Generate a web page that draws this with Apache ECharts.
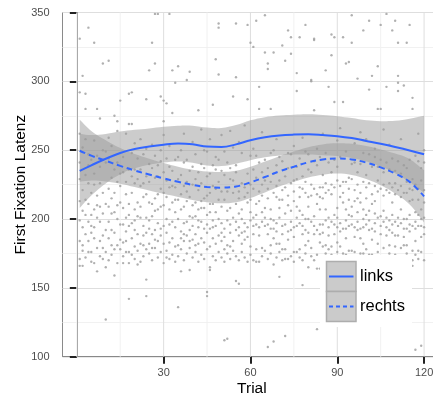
<!DOCTYPE html>
<html><head><meta charset="utf-8">
<script src="https://cdn.jsdelivr.net/npm/echarts@6/dist/echarts.min.js"></script>
<style>html,body{margin:0;padding:0;background:#fff}#c{width:433px;height:396px}</style>
</head><body><div id="c"></div>
<script>
const FONT = 'Liberation Sans, Arial, sans-serif';
const xTicks = [30, 60, 90, 120];
const xMinorGrid = [0, 15, 45, 75, 105];
const yMin = 100, yMax = 350, yStep = 50;
const seriesNames = ['links', 'rechts'];

// smooth fits (sampled trials) and half widths of their confidence bands
const bandTrials = [1,5,10,15,20,25,30,35,40,45,50,55,60,65,70,75,80,85,90,95,100,105,110,115,120];
const linksFit   = [235,239,243.8,248,250.8,252.6,254,254.8,254.3,252.6,252.3,254.2,257.2,259.4,260.7,261.3,261.5,261,260.2,258.8,256.7,254.6,252.3,249.8,247];
const linksHalf  = [27,22,18,15.5,14,13.2,13,13,13.5,13.8,13.8,14,14.5,14.6,14.5,14.5,14.6,14.6,14.5,14.5,15,16.5,19,23,28];
const rechtsFit  = [249.6,246,242.3,238.6,235.2,232.3,229.5,227,224.8,223.3,222.8,223.6,226.6,230.5,234.6,238,241.2,243.2,244,243.3,241,237.5,233,227,216.5];
const rechtsHalf = [22.5,18,15,13,12,11.5,11.2,11,11,11.2,11.4,11.4,11.3,11.2,11,11,11,11,11,11.3,12,13,14.5,16.5,19];

// first fixation latency per trial (index 0 = trial 1)
const latency = [
[166,171,184,213,199,229,262,241,331,292],
[166,194,181,206,221,252,304,177],
[172,203,189,214,258,232,280,291],
[184,176,198,226,211,247,339,239],
[169,195,190,219,243,203,176],
[168,207,186,225,257,233,328,194],
[162,179,201,217,246,280,210],
[173,209,184,238,226,273,198],
[188,179,219,204,250,313,171],
[127,165,192,176,211,241,249],
[170,186,222,209,259,244,315,198],
[192,174,215,230,181,253,204],
[159,178,205,190,236,219,275],
[168,200,181,227,241,264,271,210],
[178,185,212,196,233,224,286],
[168,183,208,234,196,245,173],
[191,176,201,218,227,262,184],
[142,168,176,195,211,236,269,291,203],
[174,197,186,219,248,231,269,292],
[180,171,199,207,226,192,255,236],
[177,212,189,202,244,229,167],
[169,182,201,224,209,236,258],
[188,173,195,216,247,226,181],
[144,156,178,201,190,231,218,251,287],
[182,175,199,212,227,240,308,193],
[170,189,211,202,237,254,328,179],
[179,206,192,215,230,246,313,349,185],
[172,184,218,197,239,231,349,207],
[176,193,188,222,209,242,289,250],
[168,182,210,195,219,234,261,286,271],
[177,200,190,216,228,244,284,172],
[171,196,183,207,223,238,253,349],
[186,174,198,212,235,277,308,224],
[180,169,194,205,223,214,299,243],
[136,173,181,200,214,229,245,311],
[162,178,207,191,218,232,250,186],
[170,184,197,209,224,241,262,189],
[175,198,188,213,227,243,301,220],
[163,179,192,216,202,235,307,184],
[172,195,185,210,225,238,256,201],
[176,189,212,202,229,247,181],
[169,182,194,207,221,234,279,199],
[174,186,208,198,226,240,265,213],
[171,193,183,215,237,208,250],
[144,147,178,190,203,217,231,249,196],
[163,165,180,193,205,219,233,258,211],
[173,186,199,211,224,239,283,194],
[170,182,205,195,222,236,316,245],
[176,188,200,214,227,243,305,339,342],
[172,184,197,209,220,235,261,190],
[112,169,187,193,214,232,249,178],
[113,175,181,199,220,241,206],
[171,190,196,208,229,237,264,180],
[177,184,201,219,228,252,289],
[155,173,192,198,211,234,239,303,342],
[153,170,188,194,215,220,256,204],
[176,182,200,207,226,248,190],
[172,191,197,216,223,268,185],
[169,187,194,212,219,233,287,341],
[174,180,199,205,225,246,328,214],
[170,189,195,201,222,236,251,325],
[169,178,196,203,211,230,246,344],
[169,188,194,213,220,241,296,280],
[173,179,198,205,225,234,263,217],
[177,195,201,208,228,243,321,348],
[107,171,189,196,215,222,237,313,309],
[175,181,200,207,227,248,280,193],
[111,167,186,193,199,219,233,250,321],
[172,191,197,216,224,239,258,182],
[158,176,182,201,208,228,245,214],
[170,189,195,214,221,242,326,178],
[115,171,178,196,204,223,231,315],
[171,185,191,210,217,237,248,337],
[173,192,198,206,226,247,320,332],
[169,176,194,213,220,228,253,187],
[176,195,201,209,229,238,293,306],
[172,178,197,216,223,244,332,206],
[152,170,189,195,203,222,231,259],
[175,181,200,219,227,249,341,192],
[165,184,190,209,216,236,247,200],
[173,179,198,217,225,234,300,301],
[170,189,195,202,222,242,279,330,331],
[120,164,174,192,211,218,239,251],
[164,183,189,196,216,223,245,207],
[171,190,196,215,223,232,262,180],
[175,181,199,207,226,248,308,219],
[169,188,194,201,221,241,296,178],
[174,180,198,218,225,234,319,334],
[170,189,196,203,223,243,285,332],
[176,183,201,208,228,238,257,194],
[172,191,197,216,224,245,266,180],
[168,175,193,212,219,227,285,332],
[174,193,199,207,227,249,313,186],
[171,177,195,214,222,230,314,203],
[177,196,202,209,229,240,328,348],
[170,176,194,213,221,241,255,187],
[173,192,198,205,225,234,302,215],
[169,175,193,212,219,240,263,186],
[175,194,200,207,227,248,337,182],
[171,178,196,215,223,232,258,203],
[174,192,199,206,226,247,294,344],
[168,174,193,211,218,238,304,185],
[172,191,197,204,224,245,251,213],
[176,182,201,220,228,238,280,311],
[170,189,195,202,222,243,280,341],
[173,179,198,217,225,234,265,206],
[169,188,194,201,221,241,296,349],
[175,181,199,219,226,236,254,192],
[171,190,196,203,223,244,337,212],
[174,180,198,218,226,235,344,188],
[170,188,195,201,221,242,293,299,304,328],
[173,179,197,216,224,233,258,207],
[168,187,193,200,219,239,297,181],
[175,181,200,219,227,237,328,193],
[172,191,196,203,222,243,341,213],
[166,170,177,195,214,221,229,280,288],
[105,174,193,198,205,225,246,184],
[171,177,195,214,222,242,262,203],
[108,176,195,200,207,228,237,187],
[170,189,194,201,221,241,250,212]
];

const points = [];
latency.forEach((vals, i) => vals.forEach(v => points.push([i + 1, v])));

function bandSeries(fit, half) {
  return {
    type: 'custom', silent: true, z: 3, clip: true,
    data: [0],
    renderItem: function (params, api) {
      const up = bandTrials.map((t, i) => api.coord([t, fit[i] + half[i]]));
      const lo = bandTrials.map((t, i) => api.coord([t, fit[i] - half[i]])).reverse();
      const pts = [];
      pts.push(up[0]);
      up.forEach(p => pts.push(p));
      pts.push(up[up.length - 1]);
      pts.push(lo[0]);
      lo.forEach(p => pts.push(p));
      pts.push(lo[lo.length - 1]);
      return { type: 'polygon', shape: { points: pts, smooth: 0.4 },
               style: { fill: 'rgba(153,153,153,0.5)' } };
    }
  };
}

const gridData = xMinorGrid.map(v => [v, 0]).concat(xTicks.map(v => [v, 1]));

const chart = echarts.init(document.getElementById('c'), null, { renderer: 'canvas' });
chart.setOption({
  animation: false,
  backgroundColor: '#fff',
  grid: { left: 62.5, right: -8.3, top: 12.5, bottom: 39.3, show: true,
          borderColor: '#8a8a8a', borderWidth: 1, backgroundColor: 'transparent',
          outerBoundsMode: 'none', containLabel: false },
  xAxis: {
    type: 'value', min: -4.95, max: 125.95,
    name: 'Trial', nameLocation: 'middle', nameGap: 24, nameMoveOverlap: false,
    nameTextStyle: { fontSize: 15.5, color: '#000', fontFamily: FONT },
    axisLine: { show: true, onZero: false, lineStyle: { color: '#888', width: 1 } },
    axisTick: { show: true, customValues: xTicks, length: 7, lineStyle: { color: '#222', width: 2 } },
    axisLabel: { customValues: xTicks, margin: 11, fontSize: 11, color: '#4d4d4d', fontFamily: FONT },
    splitLine: { show: false }
  },
  yAxis: {
    type: 'value', min: yMin, max: yMax, interval: yStep,
    name: 'First Fixation Latenz', nameLocation: 'middle', nameGap: 34, nameMoveOverlap: false,
    nameTextStyle: { fontSize: 15.5, color: '#000', fontFamily: FONT },
    axisLine: { show: true, lineStyle: { color: '#888', width: 1 } },
    axisTick: { show: true, length: 7, lineStyle: { color: '#222', width: 2 } },
    axisLabel: { margin: 13, fontSize: 11, color: '#4d4d4d', fontFamily: FONT },
    splitLine: { show: true, lineStyle: { color: '#dedede', width: 1 } },
    minorTick: { show: false, splitNumber: 2 },
    minorSplitLine: { show: true, lineStyle: { color: '#f1f1f1', width: 1 } }
  },
  series: [
    { type: 'custom', silent: true, z: 1, data: gridData,
      renderItem: function (params, api) {
        const v = api.value(0), major = api.value(1);
        const p1 = api.coord([v, yMin]), p2 = api.coord([v, yMax]);
        return { type: 'line', shape: { x1: p1[0], y1: p1[1], x2: p2[0], y2: p2[1] },
                 style: { stroke: major ? '#dedede' : '#f1f1f1', lineWidth: 1 } };
      } },
    { type: 'scatter', z: 2, silent: true, data: points, symbolSize: 2.4,
      itemStyle: { color: '#9c9c9c' } },
    bandSeries(linksFit, linksHalf),
    bandSeries(rechtsFit, rechtsHalf),
    { type: 'line', name: seriesNames[0], z: 4, silent: true, smooth: 0.4, showSymbol: false,
      data: bandTrials.map((t, i) => [t, linksFit[i]]),
      lineStyle: { color: '#3366FF', width: 2 } },
    { type: 'line', name: seriesNames[1], z: 4, silent: true, smooth: 0.4, showSymbol: false,
      data: bandTrials.map((t, i) => [t, rechtsFit[i]]),
      lineStyle: { color: '#3366FF', width: 2, type: [6, 4] } }
  ],
  graphic: [
    { type: 'rect', z: 100, shape: { x: 320, y: 255, width: 92, height: 72 }, style: { fill: '#fff' } },
    { type: 'rect', z: 101, shape: { x: 326.5, y: 261.5, width: 29.5, height: 30 }, style: { fill: '#cbcbcb', stroke: '#adadad', lineWidth: 1.5 } },
    { type: 'rect', z: 101, shape: { x: 326.5, y: 291.5, width: 29.5, height: 30 }, style: { fill: '#cbcbcb', stroke: '#adadad', lineWidth: 1.5 } },
    { type: 'line', z: 102, shape: { x1: 329, y1: 276.5, x2: 353.5, y2: 276.5 }, style: { stroke: '#3366FF', lineWidth: 2 } },
    { type: 'line', z: 102, shape: { x1: 329, y1: 306.5, x2: 353.5, y2: 306.5 }, style: { stroke: '#3366FF', lineWidth: 2, lineDash: [4, 3] } },
    { type: 'text', z: 102, x: 360, y: 276.5, style: { text: seriesNames[0], fill: '#000', font: '16.5px ' + FONT, verticalAlign: 'middle' } },
    { type: 'text', z: 102, x: 360, y: 306.5, style: { text: seriesNames[1], fill: '#000', font: '16.5px ' + FONT, verticalAlign: 'middle' } }
  ]
});
</script></body></html>
